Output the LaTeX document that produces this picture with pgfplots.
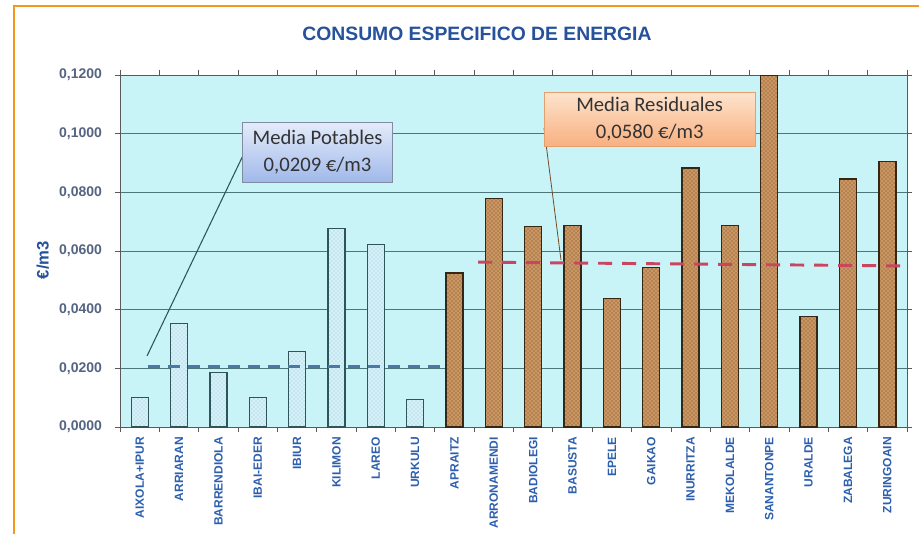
\documentclass[border=0pt]{standalone}
\usepackage{pgfplots}
\pgfplotsset{compat=1.18}
\usepackage{fontspec}
\setmainfont{Liberation Sans}
\newfontfamily\calibri{Carlito}
\usetikzlibrary{patterns}
\definecolor{plotbg}{RGB}{200,243,247}
\definecolor{gridcol}{RGB}{75,118,122}
\definecolor{titleblue}{RGB}{38,82,155}
\definecolor{xlab}{RGB}{45,95,175}
\definecolor{ylab}{RGB}{85,100,130}
\definecolor{border}{RGB}{243,152,30}
\definecolor{potfill}{RGB}{212,242,248}
\definecolor{potedge}{RGB}{45,85,90}
\definecolor{potdot}{RGB}{150,190,215}
\definecolor{resfill}{RGB}{202,150,98}
\definecolor{resedge}{RGB}{55,38,20}
\definecolor{resdot}{RGB}{115,70,35}
\definecolor{potline}{RGB}{75,120,165}
\definecolor{resline}{RGB}{200,70,95}
\definecolor{boxedge}{RGB}{130,140,160}
\begin{document}
\begin{tikzpicture}
\useasboundingbox (0,0) rectangle (689.25pt,399.75pt);
\fill[white] (0,0) rectangle (689.25pt,399.75pt);
\draw[border, line width=1.6pt] (10.5pt,-2pt) -- (10.5pt,395pt) -- (692pt,395pt);
\begin{axis}[
  at={(90pt,79.5pt)}, anchor=south west, scale only axis,
  width=590.25pt, height=264pt,
  xmin=-0.5, xmax=19.5, ymin=0, ymax=0.12,
  axis background/.style={fill=plotbg},
  axis line style={draw=gray!70!black, line width=0.6pt},
  ytick={0,0.02,0.04,0.06,0.08,0.10,0.12},
  scaled y ticks=false,
  yticklabel style={/pgf/number format/fixed, /pgf/number format/fixed zerofill, /pgf/number format/precision=4, /pgf/number format/use comma, /pgf/number format/assume math mode=true},
  y tick label style={font=\bfseries\fontsize{10.5}{12}\selectfont, text=ylab, xshift=-6pt},
  ymajorgrids, grid style={gridcol, line width=0.6pt},
  xtick={0,...,19},
  xticklabels={AIXOLA+IPUR,ARRIARAN,BARRENDIOLA,IBAI-EDER,IBIUR,KILIMON,LAREO,URKULU,APRAITZ,ARRONAMENDI,BADIOLEGI,BASUSTA,EPELE,GAIKAO,INURRITZA,MEKOLALDE,SANANTONPE,URALDE,ZABALEGA,ZURINGOAIN},
  minor xtick={-0.5,0.5,...,19.5},
  tick align=outside,
  major x tick style={draw=none},
  minor tick length=4pt, major tick length=4pt,
  tick style={gray!70!black, line width=0.6pt},
  x tick label style={rotate=90, anchor=east, font=\bfseries\fontsize{9}{10}\selectfont, text=xlab, yshift=0pt},
  ylabel={€/m3},
  ylabel style={at={(axis description cs:-0.098,0.474)}, anchor=center, font=\bfseries\fontsize{12.5}{14}\selectfont, text=titleblue},
  title={CONSUMO ESPECIFICO DE ENERGIA},
  title style={at={(axis description cs:0.4536,1.094)}, anchor=center, yshift=0pt, font=\bfseries\fontsize{14.5}{17}\selectfont, text=titleblue},
]
\addplot[ybar, bar width=12.75pt, bar shift=0pt, fill=potfill, draw=potedge, line width=1pt,
  postaction={pattern=crosshatch dots, pattern color=potdot}]
  coordinates {(0,0.0100) (1,0.0353) (2,0.0185) (3,0.0100) (4,0.0257) (5,0.0677) (6,0.0622) (7,0.0094)};
\addplot[ybar, bar width=12.75pt, bar shift=0pt, fill=resfill, draw=resedge, line width=1pt,
  postaction={pattern=crosshatch dots, pattern color=resdot}]
  coordinates {(8,0.0525) (9,0.0780) (10,0.0683) (11,0.0688) (12,0.0439) (13,0.0543) (14,0.0883) (15,0.0688) (16,0.1200) (17,0.0377) (18,0.0845) (19,0.0905)};
\addplot[no marks, potline, line width=2.4pt, dash pattern=on 9pt off 6pt]
  coordinates {(0.21,0.0205) (7.63,0.0205)};
\addplot[no marks, resline, line width=2.2pt, dash pattern=on 10.5pt off 7.5pt]
  coordinates {(8.6,0.0562) (19.5,0.0549)};
\draw[potedge, line width=0.8pt] (axis cs:2.68,0.0941) -- (axis cs:0.186,0.0242);
\draw[brown!60!black, line width=0.6pt] (axis cs:10.275,0.1019) -- (axis cs:10.707,0.0569);
\node[draw=boxedge, line width=0.6pt, top color={rgb,255:red,228;green,236;blue,250}, bottom color={rgb,255:red,160;green,184;blue,234},
  minimum width=112pt, minimum height=45pt, align=center, inner sep=2pt,
  font=\calibri\fontsize{15.5}{20}\selectfont, text=black!80]
  at (axis cs:4.52,0.0937) {Media Potables\\0,0209 €/m3};
\node[draw={rgb,255:red,225;green,160;blue,110}, line width=0.6pt, top color={rgb,255:red,253;green,228;blue,205}, bottom color={rgb,255:red,248;green,176;blue,128},
  minimum width=158pt, minimum height=40.5pt, align=center, inner sep=2pt,
  font=\calibri\fontsize{15.5}{20}\selectfont, text=black!80]
  at (axis cs:12.96,0.1050) {Media Residuales\\0,0580 €/m3};
\end{axis}
\end{tikzpicture}
\end{document}
